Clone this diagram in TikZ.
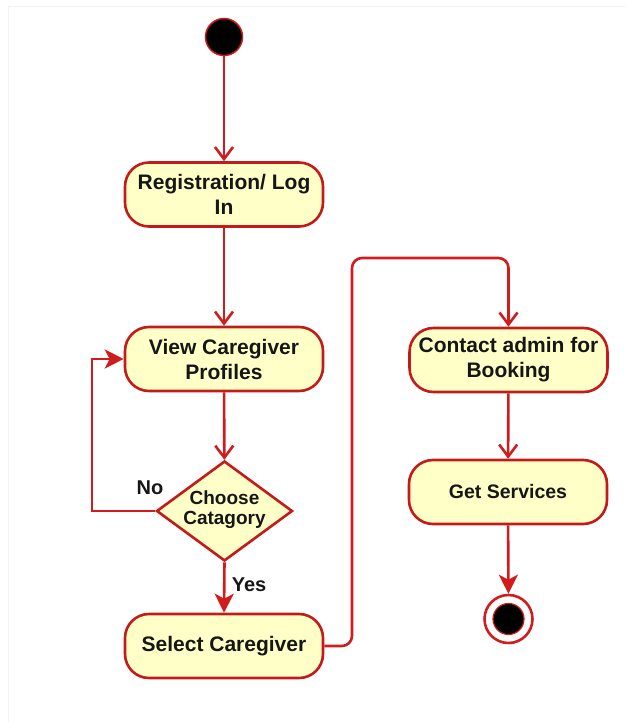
\documentclass[tikz,border=0pt]{standalone}
\usepackage{fontspec}
\setmainfont{Liberation Sans}
\usetikzlibrary{shapes.geometric,arrows.meta}
\definecolor{lred}{RGB}{208,28,28}
\definecolor{bred}{RGB}{196,26,26}
\definecolor{cream}{RGB}{255,255,200}
\definecolor{ink}{RGB}{22,22,22}
\begin{document}
\begin{tikzpicture}[x=1pt,y=-1pt,
  act/.style={draw=bred, line width=2.6pt, fill=cream, rounded corners=24pt,
    minimum width=198pt, minimum height=64pt, align=center, text=ink,
    font=\bfseries\fontsize{21}{25}\selectfont, inner sep=2pt},
  decis/.style={diamond, draw=bred, line width=2.6pt, fill=cream,
    minimum width=136pt, minimum height=100pt, inner sep=0pt},
  dectext/.style={align=center, text=ink, font=\bfseries\fontsize{19}{20}\selectfont},
  guard/.style={text=ink, font=\bfseries\fontsize{20}{22}\selectfont},
  flow/.style={draw=lred, line width=2.6pt, -{Straight Barb[length=12pt,width=18pt,line width=2.6pt]}},
  flowf/.style={draw=lred, line width=2.6pt, -{Stealth[length=19pt,width=19pt,inset=5pt]}, fill=none},
]
\useasboundingbox (0,0) rectangle (626,722);
\draw[black!5, line width=1pt] (8,722) -- (8,7) -- (626,7);

\node[circle, draw=lred, line width=1.5pt, fill=black, minimum size=37pt, inner sep=0pt] (start) at (224,37) {};
\node[act] (reg) at (224,194.5) {Registration/ Log\\In};
\node[act] (view) at (224,359) {View Caregiver\\Profiles};
\node[decis] (dec) at (224.5,511) {};
\node[dectext] (dect) at (224.5,510) {Choose\\Catagory};
\node[act] (sel) at (224,646) {Select Caregiver};
\node[act] (cont) at (508.5,360) {Contact admin for\\Booking};
\node[act, font=\bfseries\fontsize{19.5}{24}\selectfont] (get) at (508,492) {Get Services};
\node[circle, draw=lred, line width=2.6pt, fill=white, minimum size=48pt, inner sep=0pt] (fin) at (508.5,619) {};
\node[circle, draw=lred, line width=1.2pt, fill=black, minimum size=31pt, inner sep=0pt] (finin) at (fin) {};

\node[guard] (no) at (150,488) {No};
\node[guard] (yes) at (249,585) {Yes};

\coordinate (lp) at (92,511);
\coordinate (up) at (352,258);

\draw[flow] (start) -- (reg);
\draw[flow] (reg) -- (view);
\draw[flow] (view) -- (dec);
\draw[flowf] (dec.west) -- (lp) |- (view.west);
\draw[flowf] (dec.south) -- (sel.north);
\draw[flow, rounded corners=10pt] (sel.east) -| (up) -| (cont.north);
\draw[flow] (cont) -- (get);
\draw[flowf] (get) -- (fin);
\end{tikzpicture}
\end{document}
